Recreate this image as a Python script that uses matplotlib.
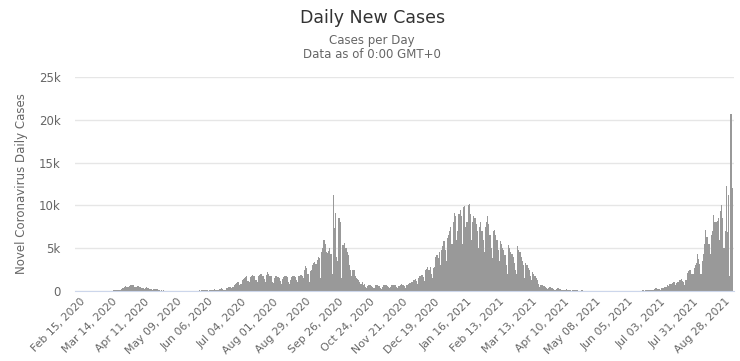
import matplotlib
matplotlib.use("Agg")
import matplotlib.pyplot as plt

# daily new cases, one row per week (Sat..Fri), first day Feb 15, 2020
cases_wave0 = [
    0, 0, 0, 0, 0, 0, 1,
    0, 0, 0, 0, 1, 0, 0,
    0, 0, 3, 3, 2, 5, 4,
    4, 6, 8, 13, 25, 20, 30,
    45, 55, 75, 100, 130, 160, 140,
    170, 250, 350, 400, 480, 550, 450,
    500, 600, 700, 680, 740, 650, 520,
    450, 550, 600, 500, 470, 400, 350,
    250, 350, 420, 380, 320, 280, 200,
    150, 230, 280, 220, 180, 150, 100,
    30, 60, 50, 70, 40, 30, 20,
    10, 20, 15, 10, 15, 20, 10,
    5, 10, 15, 10, 10, 5, 10,
    5, 10, 15, 20, 10, 10, 5,
    5, 10, 20, 20, 30, 50, 80,
]
cases_wave1 = [
    40, 60, 120, 100, 150, 100, 80,
    50, 80, 150, 120, 150, 180, 100,
    100, 150, 200, 250, 300, 250, 150,
    150, 350, 400, 450, 500, 450, 300,
    450, 700, 800, 900, 1000, 1000, 700,
    800, 1300, 1400, 1500, 1600, 1700, 1200,
    1100, 1600, 1800, 1900, 1700, 1800, 1300,
    1000, 1700, 1900, 2000, 1950, 1800, 1400,
    1100, 1900, 2250, 2000, 1800, 1700, 1100,
    900, 1500, 1700, 1750, 1600, 1500, 1200,
    800, 1400, 1600, 1700, 1700, 1600, 1100,
    800, 1300, 1600, 1700, 1800, 1600, 1300,
    1000, 1800, 1800, 1900, 1700, 1500, 2500,
    2900, 2700, 2000, 1000, 2300, 2500, 3000,
    3300, 3400, 3200, 3600, 4000, 3900, 1500,
    4600, 5000, 6000, 5500, 4600, 4400, 4700,
    5000, 4300, 2000, 11150, 7300, 9100, 4000,
    3500, 8500, 8000, 1500, 5400, 5400, 5600,
    5000, 4600, 4200, 3000, 2500, 1800, 2500,
    2400, 1700, 1500, 1400, 1300, 1100, 800,
    1000, 700, 800, 500, 400, 600, 700,
    650, 600, 500, 300, 400, 650, 700,
    600, 550, 400, 250, 450, 700, 750,
    700, 600, 450, 300, 500, 700, 750,
    700, 650, 500, 350, 550, 750, 800,
    750, 700, 550, 400, 700, 850, 900,
]
cases_wave2 = [
    900, 1000, 1100, 1300, 1400, 1200, 800,
    1500, 1700, 1800, 1900, 1600, 1200, 2500,
    2600, 2800, 2500, 2850, 2000, 1500, 2700,
    2800, 4000, 4200, 3800, 4500, 3000, 4800,
    5200, 5800, 4800, 3500, 6200, 6500, 7000,
    7500, 5500, 8000, 9100, 8800, 6000, 7000,
    9000, 9500, 8700, 5500, 9800, 9900, 7500,
    8000, 10000, 10200, 9000, 6000, 8000, 8700,
    8500, 7800, 7000, 5000, 7500, 8000, 7000,
    6000, 4500, 7500, 8000, 8700, 7800, 6500,
    5000, 3800, 7000, 7100, 6500, 6000, 4800,
    3500, 5800, 5500, 5000, 4800, 4200, 3000,
    2000, 5400, 5000, 4500, 4300, 4000, 3300,
    2500, 2000, 5200, 4800, 4500, 4000, 3500,
    3000, 1500, 3300, 3000, 2700, 2500, 1800,
    1300, 2200, 2000, 1700, 1500, 1300, 800,
    500, 700, 650, 600, 550, 450, 300,
    250, 400, 450, 350, 300, 250, 150,
    100, 250, 300, 200, 250, 150, 100,
    80, 150, 200, 150, 120, 100, 60,
    50, 100, 120, 90, 80, 60, 40,
    30, 60, 70, 50, 40, 40, 20,
    20, 40, 50, 40, 30, 25, 15,
    15, 30, 35, 25, 20, 20, 10,
    10, 20, 25, 20, 15, 15, 10,
    5, 15, 20, 15, 15, 10, 5,
    5, 10, 15, 10, 10, 10, 5,
    5, 10, 20, 10, 15, 10, 5,
    5, 10, 30, 20, 40, 60, 80,
]
cases_wave3 = [
    50, 100, 110, 130, 100, 110, 80,
    60, 150, 250, 300, 200, 250, 200,
    150, 300, 400, 450, 500, 450, 700,
    600, 800, 850, 900, 1100, 1000, 700,
    900, 1100, 1300, 1250, 1400, 1200, 1100,
    700, 1300, 2100, 2300, 2400, 2500, 2000,
    2000, 2700, 3000, 3300, 4300, 3700, 3100,
    2000, 3500, 4300, 5500, 7100, 6300, 6300,
    5500, 4300, 6500, 7000, 8900, 8100, 8000,
    8200, 8500, 6000, 9300, 10000, 8500, 5000,
    7000, 12200, 6900, 11200, 1700, 20700, 12000,
]

tick_labels = [
    "Feb 15, 2020", "Mar 14, 2020", "Apr 11, 2020", "May 09, 2020",
    "Jun 06, 2020", "Jul 04, 2020", "Aug 01, 2020", "Aug 29, 2020",
    "Sep 26, 2020", "Oct 24, 2020", "Nov 21, 2020", "Dec 19, 2020",
    "Jan 16, 2021", "Feb 13, 2021", "Mar 13, 2021", "Apr 10, 2021",
    "May 08, 2021", "Jun 05, 2021", "Jul 03, 2021", "Jul 31, 2021",
    "Aug 28, 2021",
]
y_ticks = [0, 5000, 10000, 15000, 20000, 25000]
y_labels = ["0", "5k", "10k", "15k", "20k", "25k"]

cases = cases_wave0 + cases_wave1 + cases_wave2 + cases_wave3
days = list(range(len(cases)))

fig = plt.figure(figsize=(7.4, 3.61), dpi=100)
ax = fig.add_axes([0.101, 0.194, 0.891, 0.593])

ax.bar(days, cases, width=1.0, color="#999999", linewidth=0, zorder=2)

ax.set_xlim(-4.3, 567.7)
ax.set_ylim(0, 25000)
ax.set_yticks(y_ticks)
ax.set_yticklabels(y_labels)
ax.set_xticks([i * 28 for i in range(len(tick_labels))])
ax.set_xticklabels(tick_labels, rotation=45, ha="right", rotation_mode="anchor")

ax.tick_params(axis="both", length=0, colors="#666666")
ax.tick_params(axis="y", labelsize=8.5, pad=10)
ax.tick_params(axis="x", labelsize=7.8, pad=4)
ax.grid(axis="y", color="#e6e6e6", linewidth=1, zorder=0)
for s in ["top", "right", "left"]:
    ax.spines[s].set_visible(False)
ax.spines["bottom"].set_color("#ccd6eb")
ax.set_ylabel("Novel Coronavirus Daily Cases", color="#666666", fontsize=8.5, labelpad=8)

fig.text(0.503, 0.950, "Daily New Cases", ha="center", va="center", fontsize=12.5, color="#333333")
fig.text(0.503, 0.889, "Cases per Day", ha="center", va="center", fontsize=8.5, color="#666666")
fig.text(0.503, 0.848, "Data as of 0:00 GMT+0", ha="center", va="center", fontsize=8.5, color="#666666")

fig.savefig("out.png", dpi=100)
